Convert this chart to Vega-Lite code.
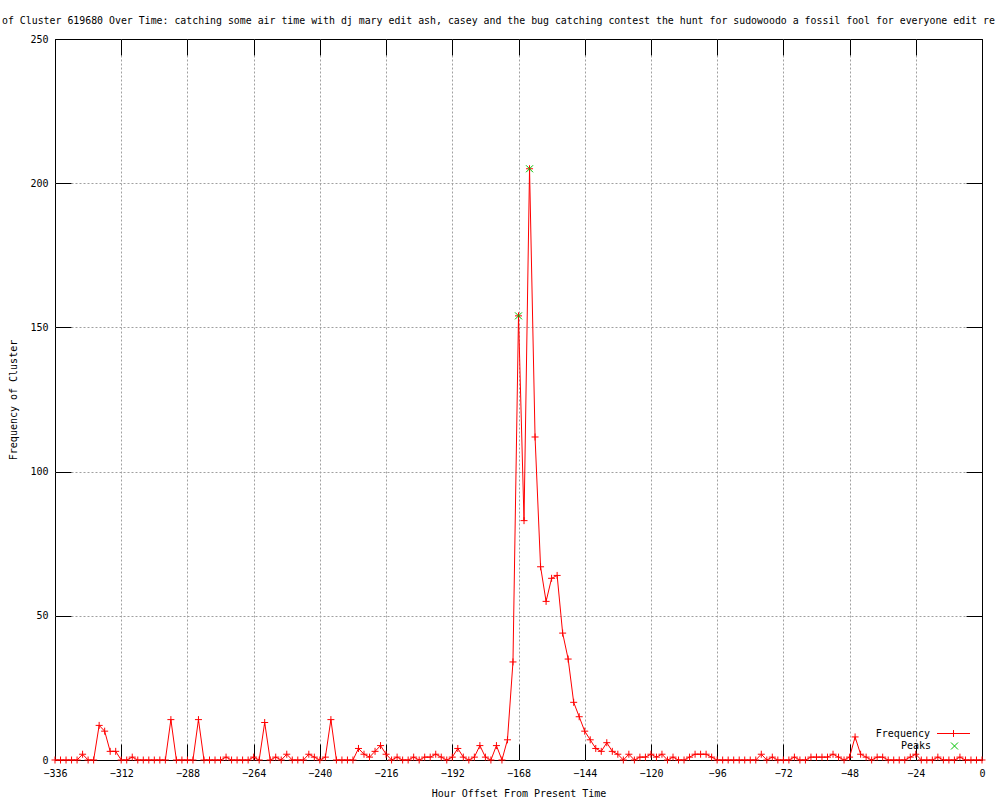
{
  "$schema": "https://vega.github.io/schema/vega-lite/v6.json",
  "width": 927,
  "height": 721,
  "autosize": {"type": "none"},
  "padding": {"left": 55, "top": 39, "right": 18, "bottom": 40},
  "background": "white",
  "config": {
    "view": {"stroke": "black", "strokeWidth": 1},
    "font": "DejaVu Sans Mono"
  },
  "title": {
    "text": "of Cluster 619680 Over Time: catching some air time with dj mary edit ash, casey and the bug catching contest the hunt for sudowoodo a fossil fool for everyone edit re",
    "anchor": "start",
    "frame": "group",
    "dx": -53,
    "offset": 8,
    "font": "DejaVu Sans Mono",
    "fontSize": 9.9,
    "fontWeight": "normal",
    "color": "black"
  },
  "datasets": {
    "freq": [
      {"hour": -336, "frequency": 0}, {"hour": -334, "frequency": 0}, {"hour": -332, "frequency": 0}, {"hour": -330, "frequency": 0},
      {"hour": -328, "frequency": 0}, {"hour": -326, "frequency": 2}, {"hour": -324, "frequency": 0}, {"hour": -322, "frequency": 0},
      {"hour": -320, "frequency": 12}, {"hour": -318, "frequency": 10}, {"hour": -316, "frequency": 3}, {"hour": -314, "frequency": 3},
      {"hour": -312, "frequency": 0}, {"hour": -310, "frequency": 0}, {"hour": -308, "frequency": 1}, {"hour": -306, "frequency": 0},
      {"hour": -304, "frequency": 0}, {"hour": -302, "frequency": 0}, {"hour": -300, "frequency": 0}, {"hour": -298, "frequency": 0},
      {"hour": -296, "frequency": 0}, {"hour": -294, "frequency": 14}, {"hour": -292, "frequency": 0}, {"hour": -290, "frequency": 0},
      {"hour": -288, "frequency": 0}, {"hour": -286, "frequency": 0}, {"hour": -284, "frequency": 14}, {"hour": -282, "frequency": 0},
      {"hour": -280, "frequency": 0}, {"hour": -278, "frequency": 0}, {"hour": -276, "frequency": 0}, {"hour": -274, "frequency": 1},
      {"hour": -272, "frequency": 0}, {"hour": -270, "frequency": 0}, {"hour": -268, "frequency": 0}, {"hour": -266, "frequency": 0},
      {"hour": -264, "frequency": 1}, {"hour": -262, "frequency": 0}, {"hour": -260, "frequency": 13}, {"hour": -258, "frequency": 0},
      {"hour": -256, "frequency": 1}, {"hour": -254, "frequency": 0}, {"hour": -252, "frequency": 2}, {"hour": -250, "frequency": 0},
      {"hour": -248, "frequency": 0}, {"hour": -246, "frequency": 0}, {"hour": -244, "frequency": 2}, {"hour": -242, "frequency": 1},
      {"hour": -240, "frequency": 0}, {"hour": -238, "frequency": 1}, {"hour": -236, "frequency": 14}, {"hour": -234, "frequency": 0},
      {"hour": -232, "frequency": 0}, {"hour": -230, "frequency": 0}, {"hour": -228, "frequency": 0}, {"hour": -226, "frequency": 4},
      {"hour": -224, "frequency": 2}, {"hour": -222, "frequency": 1}, {"hour": -220, "frequency": 3}, {"hour": -218, "frequency": 5},
      {"hour": -216, "frequency": 2}, {"hour": -214, "frequency": 0}, {"hour": -212, "frequency": 1}, {"hour": -210, "frequency": 0},
      {"hour": -208, "frequency": 0}, {"hour": -206, "frequency": 1}, {"hour": -204, "frequency": 0}, {"hour": -202, "frequency": 1},
      {"hour": -200, "frequency": 1}, {"hour": -198, "frequency": 2}, {"hour": -196, "frequency": 1}, {"hour": -194, "frequency": 0},
      {"hour": -192, "frequency": 1}, {"hour": -190, "frequency": 4}, {"hour": -188, "frequency": 1}, {"hour": -186, "frequency": 0},
      {"hour": -184, "frequency": 1}, {"hour": -182, "frequency": 5}, {"hour": -180, "frequency": 1}, {"hour": -178, "frequency": 0},
      {"hour": -176, "frequency": 5}, {"hour": -174, "frequency": 0}, {"hour": -172, "frequency": 7}, {"hour": -170, "frequency": 34},
      {"hour": -168, "frequency": 154}, {"hour": -166, "frequency": 83}, {"hour": -164, "frequency": 205}, {"hour": -162, "frequency": 112},
      {"hour": -160, "frequency": 67}, {"hour": -158, "frequency": 55}, {"hour": -156, "frequency": 63}, {"hour": -154, "frequency": 64},
      {"hour": -152, "frequency": 44}, {"hour": -150, "frequency": 35}, {"hour": -148, "frequency": 20}, {"hour": -146, "frequency": 15},
      {"hour": -144, "frequency": 10}, {"hour": -142, "frequency": 7}, {"hour": -140, "frequency": 4}, {"hour": -138, "frequency": 3},
      {"hour": -136, "frequency": 6}, {"hour": -134, "frequency": 3}, {"hour": -132, "frequency": 2}, {"hour": -130, "frequency": 0},
      {"hour": -128, "frequency": 2}, {"hour": -126, "frequency": 0}, {"hour": -124, "frequency": 1}, {"hour": -122, "frequency": 1},
      {"hour": -120, "frequency": 2}, {"hour": -118, "frequency": 1}, {"hour": -116, "frequency": 2}, {"hour": -114, "frequency": 0},
      {"hour": -112, "frequency": 1}, {"hour": -110, "frequency": 0}, {"hour": -108, "frequency": 0}, {"hour": -106, "frequency": 1},
      {"hour": -104, "frequency": 2}, {"hour": -102, "frequency": 2}, {"hour": -100, "frequency": 2}, {"hour": -98, "frequency": 1},
      {"hour": -96, "frequency": 0}, {"hour": -94, "frequency": 0}, {"hour": -92, "frequency": 0}, {"hour": -90, "frequency": 0},
      {"hour": -88, "frequency": 0}, {"hour": -86, "frequency": 0}, {"hour": -84, "frequency": 0}, {"hour": -82, "frequency": 0},
      {"hour": -80, "frequency": 2}, {"hour": -78, "frequency": 0}, {"hour": -76, "frequency": 1}, {"hour": -74, "frequency": 0},
      {"hour": -72, "frequency": 0}, {"hour": -70, "frequency": 0}, {"hour": -68, "frequency": 1}, {"hour": -66, "frequency": 0},
      {"hour": -64, "frequency": 0}, {"hour": -62, "frequency": 1}, {"hour": -60, "frequency": 1}, {"hour": -58, "frequency": 1},
      {"hour": -56, "frequency": 1}, {"hour": -54, "frequency": 2}, {"hour": -52, "frequency": 1}, {"hour": -50, "frequency": 0},
      {"hour": -48, "frequency": 1}, {"hour": -46, "frequency": 8}, {"hour": -44, "frequency": 2}, {"hour": -42, "frequency": 1},
      {"hour": -40, "frequency": 0}, {"hour": -38, "frequency": 1}, {"hour": -36, "frequency": 1}, {"hour": -34, "frequency": 0},
      {"hour": -32, "frequency": 0}, {"hour": -30, "frequency": 0}, {"hour": -28, "frequency": 0}, {"hour": -26, "frequency": 1},
      {"hour": -24, "frequency": 2}, {"hour": -22, "frequency": 0}, {"hour": -20, "frequency": 0}, {"hour": -18, "frequency": 0},
      {"hour": -16, "frequency": 1}, {"hour": -14, "frequency": 0}, {"hour": -12, "frequency": 0}, {"hour": -10, "frequency": 0},
      {"hour": -8, "frequency": 1}, {"hour": -6, "frequency": 0}, {"hour": -4, "frequency": 0}, {"hour": -2, "frequency": 0},
      {"hour": 0, "frequency": 0}
    ],
    "peaks": [
      {"hour": -168, "frequency": 154},
      {"hour": -164, "frequency": 205}
    ]
  },
  "layer": [
    {
      "data": {"name": "freq"},
      "mark": {"type": "line", "color": "#ff0000", "strokeWidth": 1},
      "encoding": {
        "x": {
          "field": "hour", "type": "quantitative",
          "scale": {"domain": [-336, 0], "nice": false, "zero": false},
          "axis": {
            "orient": "bottom",
            "values": [-336, -312, -288, -264, -240, -216, -192, -168, -144, -120, -96, -72, -48, -24, 0],
            "grid": true,
            "gridColor": {"condition": {"test": "datum.value === -336 || datum.value === 0", "value": "transparent"}, "value": "#a0a0a0"},
            "gridDash": [2, 2],
            "gridWidth": 1,
            "domain": false,
            "ticks": true,
            "tickSize": -16,
            "tickColor": "black",
            "tickWidth": 1,
            "labelFont": "DejaVu Sans Mono",
            "labelFontSize": 10,
            "labelColor": "black",
            "labelPadding": 24,
            "labelBaseline": "top",
            "labelFlush": false,
            "labelOverlap": false,
            "title": "Hour Offset From Present Time",
            "titleFont": "DejaVu Sans Mono",
            "titleFontSize": 10,
            "titleFontWeight": "normal",
            "titleColor": "black",
            "titleX": 463.5,
            "titleY": 33,
            "titleBaseline": "middle",
            "titleAlign": "center"
          }
        },
        "y": {
          "field": "frequency", "type": "quantitative",
          "scale": {"domain": [0, 250], "nice": false},
          "axis": {
            "orient": "left",
            "values": [0, 50, 100, 150, 200, 250],
            "grid": true,
            "gridColor": {"condition": {"test": "datum.value === 0 || datum.value === 250", "value": "transparent"}, "value": "#a0a0a0"},
            "gridDash": [2, 2],
            "gridWidth": 1,
            "domain": false,
            "ticks": true,
            "tickSize": -16,
            "tickColor": "black",
            "tickWidth": 1,
            "labelFont": "DejaVu Sans Mono",
            "labelFontSize": 10,
            "labelColor": "black",
            "labelPadding": 23,
            "labelAlign": "right",
            "labelBaseline": "middle",
            "labelFlush": false,
            "labelOverlap": false,
            "title": "Frequency of Cluster",
            "titleFont": "DejaVu Sans Mono",
            "titleFontSize": 10,
            "titleFontWeight": "normal",
            "titleColor": "black",
            "titleX": -42,
            "titleY": 360.5,
            "titleAngle": 270,
            "titleBaseline": "middle",
            "titleAlign": "center"
          }
        }
      }
    },
    {
      "data": {"name": "freq"},
      "mark": {"type": "point", "filled": false, "strokeWidth": 1, "color": "#ff0000", "shape": "M-1,0L1,0M0,-1L0,1", "size": 49},
      "encoding": {
        "x": {
          "field": "hour", "type": "quantitative",
          "axis": {
            "orient": "top",
            "values": [-336, -312, -288, -264, -240, -216, -192, -168, -144, -120, -96, -72, -48, -24, 0],
            "grid": false, "domain": false, "labels": false, "title": null,
            "ticks": true, "tickSize": -16, "tickColor": "black", "tickWidth": 1
          }
        },
        "y": {
          "field": "frequency", "type": "quantitative",
          "axis": {
            "orient": "right",
            "values": [0, 50, 100, 150, 200, 250],
            "grid": false, "domain": false, "labels": false, "title": null,
            "ticks": true, "tickSize": -16, "tickColor": "black", "tickWidth": 1
          }
        },
        "opacity": {
          "datum": "Frequency",
          "type": "nominal",
          "scale": {"domain": ["Frequency"], "range": [1]},
          "legend": {
            "title": null,
            "orient": "none",
            "legendX": 881.5,
            "legendY": 677.5,
            "direction": "vertical",
            "padding": 0,
            "labelFont": "DejaVu Sans Mono",
            "labelFontSize": 10,
            "labelColor": "black",
            "labelAlign": "right",
            "labelOffset": -40.5,
            "symbolType": "M-1,0L1,0M-0.21,0L0.21,0M0,-0.21L0,0.21",
            "symbolSize": 1089,
            "symbolStrokeWidth": 1,
            "symbolStrokeColor": "#ff0000",
            "symbolFillColor": "transparent"
          }
        }
      }
    },
    {
      "data": {"name": "peaks"},
      "mark": {"type": "point", "filled": false, "strokeWidth": 1, "opacity": 1, "size": 49, "color": "#00c000"},
      "encoding": {
        "x": {"field": "hour", "type": "quantitative", "axis": null},
        "y": {"field": "frequency", "type": "quantitative", "axis": null},
        "shape": {
          "datum": "Peaks",
          "type": "nominal",
          "scale": {"domain": ["Peaks"], "range": ["M-1,-1L1,1M-1,1L1,-1"]},
          "legend": {
            "title": null,
            "orient": "none",
            "legendX": 894.5,
            "legendY": 702,
            "direction": "vertical",
            "padding": 0,
            "labelFont": "DejaVu Sans Mono",
            "labelFontSize": 10,
            "labelColor": "black",
            "labelAlign": "right",
            "labelOffset": -28.5,
            "symbolSize": 49,
            "symbolStrokeWidth": 1,
            "symbolStrokeColor": "#00c000",
            "symbolFillColor": "transparent"
          }
        }
      }
    }
  ],
  "resolve": {"axis": {"x": "independent", "y": "independent"}}
}
